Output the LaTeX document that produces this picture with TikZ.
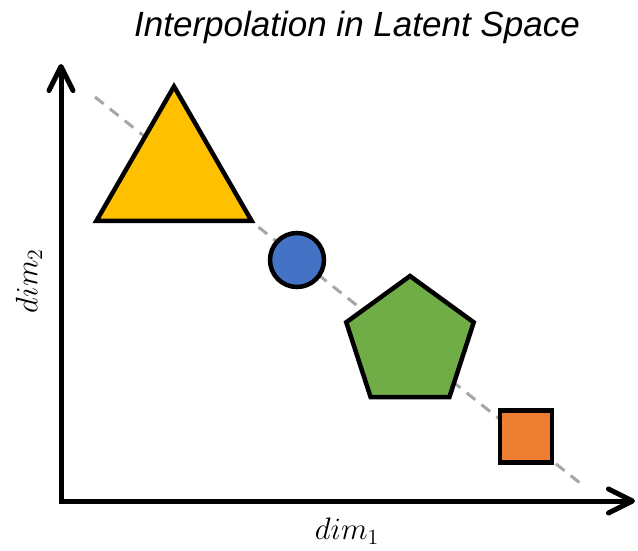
\documentclass[tikz,border=0pt]{standalone}
\usepackage{fix-cm}
\usepackage{graphicx}
\usepackage{fontspec}
\usepackage{tikz}
\usetikzlibrary{arrows.meta, shapes.geometric}
\newfontfamily\titlefont{Liberation Sans}
\definecolor{myellow}{HTML}{FFC000}
\definecolor{mblue}{HTML}{4472C4}
\definecolor{mgreen}{HTML}{70AD47}
\definecolor{morange}{HTML}{ED7D31}
\definecolor{mgray}{HTML}{A6A6A6}
\newcommand{\axlabel}[1]{\scalebox{1.55}{$#1$}}

\begin{document}
\begin{tikzpicture}[x=1pt, y=-1pt,
  obj/.style={draw=black, line width=4.5pt, inner sep=0pt, outer sep=0pt},
  axis/.style={line width=5pt, line cap=round, line join=miter,
               {Straight Barb[length=24pt, width=24pt, round]}-{Straight Barb[length=24pt, width=24pt, round]}},
  interp/.style={mgray, line width=3pt, dash pattern=on 11pt off 8pt},
  lbl/.style={font=\fontsize{20}{24}\selectfont, inner sep=0pt}
]
\useasboundingbox (0,0) rectangle (638,551);
\coordinate (origin) at (61,501);
\coordinate (ytip) at (61,64);
\coordinate (xtip) at (635,501);
\coordinate (pstart) at (95,97);
\coordinate (pend) at (585,487);
\draw[interp] (pstart) -- (pend);
\node[obj, regular polygon, regular polygon sides=3, minimum size=179pt, fill=myellow] (tri) at (174,176) {};
\node[obj, circle, minimum size=54pt, fill=mblue] (circ) at (297,260) {};
\node[obj, regular polygon, regular polygon sides=5, minimum size=134pt, fill=mgreen] (pent) at (410,343) {};
\node[obj, rectangle, minimum size=52pt, fill=morange] (sq) at (526,436.5) {};
\draw[axis] (ytip) -- (origin) -- (xtip);
\node[font=\titlefont\itshape\fontsize{35}{40}\selectfont] (title) at (357,27) {Interpolation in Latent Space};
\node[lbl] (xlbl) at (347,531) {\axlabel{dim_1}};
\node[lbl, rotate=90] (ylbl) at (29,281) {\axlabel{dim_2}};
\end{tikzpicture}
\end{document}
